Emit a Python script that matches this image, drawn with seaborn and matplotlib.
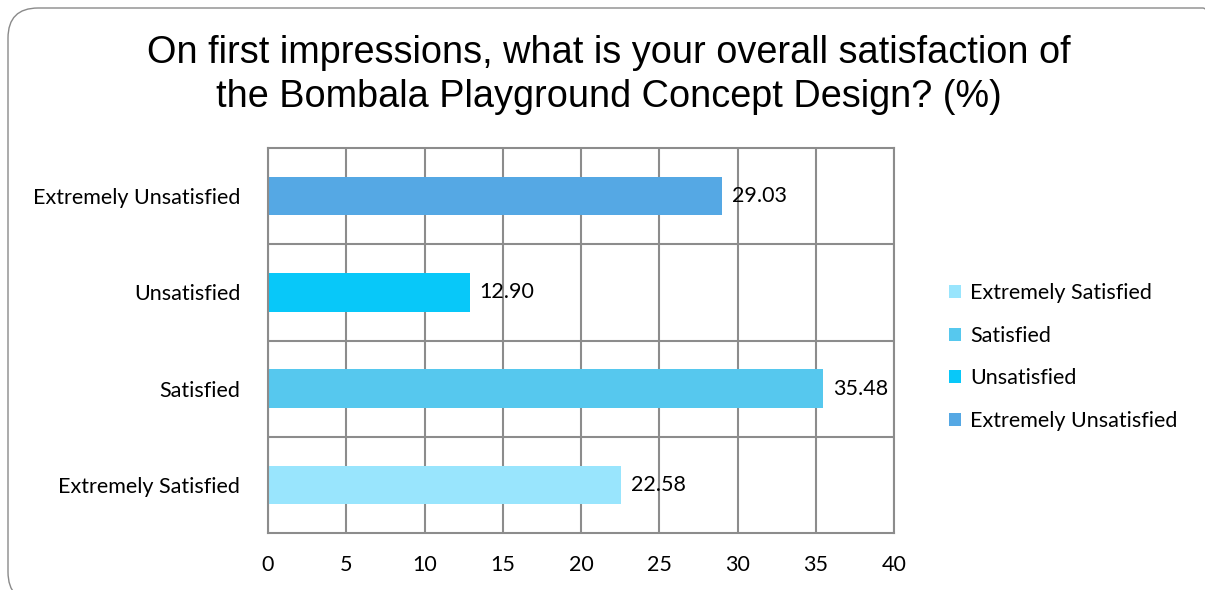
import matplotlib
matplotlib.use("Agg")
import matplotlib.pyplot as plt
from matplotlib.patches import FancyBboxPatch, Patch
import seaborn as sns
import pandas as pd

categories = ["Extremely Unsatisfied", "Unsatisfied", "Satisfied", "Extremely Satisfied"]
values = [29.03, 12.90, 35.48, 22.58]
colors = ["#55A8E4", "#08C8F9", "#56C8EE", "#99E5FD"]
legend_order = ["Extremely Satisfied", "Satisfied", "Unsatisfied", "Extremely Unsatisfied"]
x_ticks = [0, 5, 10, 15, 20, 25, 30, 35, 40]

df = pd.DataFrame({"Category": categories, "Percent": values})
palette = dict(zip(categories, colors))

sns.set_style("white")
plt.rcParams["font.family"] = ["Lato", "DejaVu Sans"]

fig = plt.figure(figsize=(12.05, 5.9), dpi=100)
ax = fig.add_axes([268 / 1205, 1 - 533 / 590, 626 / 1205, 385 / 590])

sns.barplot(data=df, x="Percent", y="Category", hue="Category", order=categories,
            palette=palette, width=0.4, dodge=False, legend=False, ax=ax,
            saturation=1, linewidth=0)

ax.set_xlim(0, 40)
ax.set_ylim(3.5, -0.5)
ax.set_xticks(x_ticks)
ax.set_xlabel("")
ax.set_ylabel("")
grid_col = "#8C8C8C"
for x in x_ticks:
    ax.axvline(x, color=grid_col, lw=1.5, zorder=0)
for y in [0.5, 1.5, 2.5]:
    ax.axhline(y, color=grid_col, lw=1.5, zorder=0)
for s in ax.spines.values():
    s.set_color(grid_col)
    s.set_linewidth(1.5)
ax.tick_params(axis="both", length=0, labelsize=15.5, colors="black")
ax.tick_params(axis="x", pad=16)
ax.tick_params(axis="y", pad=20)

for i, v in enumerate(values):
    ax.text(v + 0.6, i, f"{v:.2f}", va="center", ha="left", fontsize=15.5, color="black")

handles = [Patch(facecolor=palette[c], edgecolor="none") for c in legend_order]
fig.legend(handles, legend_order, loc="center left", bbox_to_anchor=(930 / 1205, 1 - 357 / 590),
           frameon=False, fontsize=15.5, handlelength=0.55, handleheight=0.55,
           handletextpad=0.4, labelspacing=1.05, labelcolor="black")

fig.text(609 / 1205, 1 - 75 / 590,
         "On first impressions, what is your overall satisfaction of\nthe Bombala Playground Concept Design? (%)",
         ha="center", va="center", fontsize=27.3, family=["Liberation Sans", "DejaVu Sans"],
         linespacing=1.27, color="black")

# rounded frame that runs off the right and bottom edges
border = FancyBboxPatch((8 / 1205, -12 / 590), 1225 / 1205, 1 + 4 / 590,
                        boxstyle="round,pad=0,rounding_size=0.025",
                        transform=fig.transFigure, facecolor="none",
                        edgecolor="#8A8A8A", lw=1.0, mutation_aspect=2.04)
fig.patches.append(border)

fig.savefig("out.png", dpi=100)
